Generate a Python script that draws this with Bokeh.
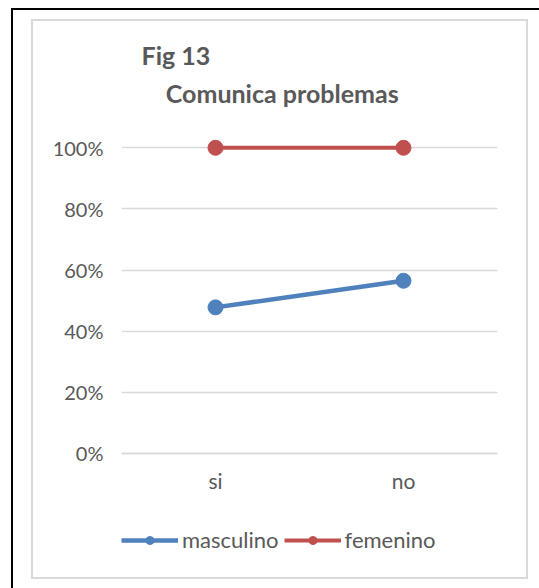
from bokeh.plotting import figure
from bokeh.models import (FactorRange, Range1d, FixedTicker, NumeralTickFormatter,
                          Legend, LegendItem, Title, ColumnDataSource, CategoricalAxis)
from bokeh.embed import file_html
from bokeh.resources import INLINE

# ---- data ----
categories = ["si", "no"]
masculino = [0.478, 0.565]
femenino = [1.0, 1.0]
y_ticks = [0, 0.2, 0.4, 0.6, 0.8, 1.0]
series_names = ["masculino", "femenino"]
title_line1 = "Fig 13"
title_line2 = "Comunica problemas"

BLUE = "#4F81BD"
RED = "#C0504D"
TXT = "#595959"
GRID = "#D9D9D9"
FONT = "Lato"

p = figure(x_range=FactorRange(factors=categories), y_range=Range1d(-0.3435, 1.05),
           width=539, height=588, output_backend="svg", toolbar_location=None,
           x_axis_location=None,
           min_border_left=121, min_border_right=42, min_border_top=132,
           min_border_bottom=30)
p.title.visible = False
p.outline_line_color = None
p.background_fill_color = "white"
p.border_fill_color = None
# screenshot frame (black) and chart-area frame (gray), drawn as inset shadows
p.styles = {"box-shadow": ", ".join([
    "inset 11px 8px 0 0 #FFFFFF",
    "inset 13px 10px 0 0 #000000",
    "inset 31px 19px 0 0 #FFFFFF",
    "inset -11px -9px 0 0 #FFFFFF",
    "inset 33px 21px 0 0 #D9D9D9",
    "inset -13px -11px 0 0 #D9D9D9",
])}

src_m = ColumnDataSource(dict(x=categories, y=masculino))
src_f = ColumnDataSource(dict(x=categories, y=femenino))

l1 = p.line("x", "y", source=src_m, line_color=BLUE, line_width=4.5)
s1 = p.scatter("x", "y", source=src_m, size=15, fill_color=BLUE, line_color=BLUE)
l2 = p.line("x", "y", source=src_f, line_color=RED, line_width=4)
s2 = p.scatter("x", "y", source=src_f, size=15, fill_color=RED, line_color=RED)

p.xgrid.visible = False
p.ygrid.grid_line_color = GRID
p.ygrid.grid_line_width = 1.5

xaxis = CategoricalAxis(fixed_location=0)
p.add_layout(xaxis, "below")

p.yaxis.ticker = FixedTicker(ticks=y_ticks)
p.yaxis.formatter = NumeralTickFormatter(format="0%")
for ax in (xaxis, p.yaxis[0]):
    ax.axis_line_color = None
    ax.major_tick_line_color = None
    ax.minor_tick_line_color = None
    ax.major_label_text_font = FONT
    ax.major_label_text_color = TXT
xaxis.axis_line_color = GRID
xaxis.axis_line_width = 1.5
xaxis.major_label_text_font_size = "21px"
xaxis.major_label_standoff = 9
p.yaxis.major_label_text_font_size = "20px"
p.yaxis.major_label_standoff = 12

legend = Legend(items=[LegendItem(label=series_names[0], renderers=[l1, s1]),
                       LegendItem(label=series_names[1], renderers=[l2, s2])],
                orientation="horizontal", location=(0, 5),
                glyph_width=57, glyph_height=20, label_standoff=4, spacing=5,
                padding=0, margin=0,
                border_line_color=None, background_fill_alpha=0,
                label_text_font=FONT, label_text_font_size="22px",
                label_text_color=TXT)
p.add_layout(legend, "center")

NB = "\u00a0"
title = Title(text=title_line1 + "\n" + NB * 4 + title_line2, align="left", offset=20,
              text_font=FONT, text_font_size="25px", text_font_style="bold",
              text_color=TXT, text_line_height=1.27, standoff=48)
p.add_layout(title, "above")

open("out.html", "w").write(file_html(p, INLINE))
